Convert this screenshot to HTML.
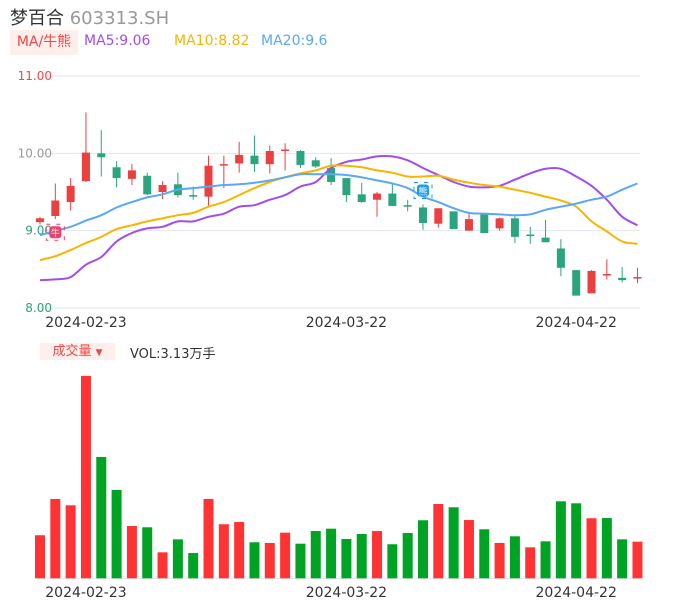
<!DOCTYPE html>
<html><head><meta charset="utf-8"><style>
body{margin:0;background:#fff;font-family:"DejaVu Sans","Noto Sans CJK SC",sans-serif;}
#wrap{position:relative;width:686px;height:606px;overflow:hidden;}
.abs{position:absolute;white-space:nowrap;}
</style></head><body>
<div id="wrap">
<div class="abs" style="left:10px;top:4px;font-size:18px;color:#333">梦百合 <span style="color:#999">603313.SH</span></div>
<div class="abs" style="left:10px;top:30px;width:68px;height:25px;background:#fdf0ec;color:#f04848;font-size:14px;line-height:25px;text-align:center">MA/牛熊</div>
<div class="abs" style="left:84px;top:33px;font-size:14px;color:#a04cf0">MA5:9.06</div>
<div class="abs" style="left:174px;top:33px;font-size:14px;color:#f7b500">MA10:8.82</div>
<div class="abs" style="left:261px;top:33px;font-size:14px;color:#5aa7f5">MA20:9.6</div>
<div class="abs" style="left:40px;top:343px;width:75px;height:17px;background:#fdf0ec;color:#f04848;font-size:13px;line-height:17px;text-align:center">成交量 <span style="font-size:9px">▼</span></div>
<div class="abs" style="left:130px;top:343px;font-size:13px;color:#333">VOL:3.13万手</div>
<svg id="svg" width="686" height="606" style="position:absolute;left:0;top:0"></svg>
</div>
<script>
const dates=["2024-02-23","2024-03-22","2024-04-22"];
const dateIdx=[3,20,35];
const priceTicks=[11,10,9,8];
const priceTickLabels=["11.00","10.00","9.00","8.00"];
const opens=[9.11,9.19,9.37,9.64,10.00,9.82,9.67,9.71,9.50,9.60,9.46,9.44,9.85,9.87,9.97,9.86,10.04,10.03,9.91,9.81,9.68,9.47,9.40,9.48,9.33,9.30,9.09,9.25,9.00,9.23,9.03,9.16,8.95,8.91,8.77,8.49,8.19,8.42,8.39,8.38];
const closes=[9.16,9.39,9.58,10.01,9.95,9.68,9.78,9.47,9.59,9.46,9.44,9.84,9.86,9.98,9.86,10.03,10.05,9.85,9.83,9.63,9.46,9.37,9.48,9.32,9.31,9.10,9.29,9.02,9.15,8.97,9.16,8.92,8.93,8.85,8.52,8.16,8.48,8.44,8.36,8.40];
const highs=[9.18,9.61,9.68,10.53,10.30,9.90,9.86,9.75,9.64,9.75,9.57,9.97,9.97,10.15,10.23,10.10,10.13,10.04,9.95,9.94,9.68,9.62,9.50,9.60,9.40,9.34,9.29,9.25,9.22,9.23,9.17,9.19,9.05,9.14,8.89,8.49,8.49,8.63,8.53,8.52];
const lows=[9.08,9.15,9.26,9.63,9.70,9.56,9.59,9.46,9.41,9.43,9.40,9.31,9.55,9.75,9.76,9.74,9.78,9.81,9.81,9.59,9.37,9.36,9.18,9.32,9.25,9.01,9.04,9.02,9.00,8.97,9.00,8.84,8.83,8.85,8.41,8.16,8.19,8.37,8.33,8.32];
const ma5=[8.36,8.37,8.40,8.56,8.66,8.86,8.97,9.03,9.05,9.12,9.12,9.18,9.22,9.31,9.33,9.40,9.46,9.57,9.63,9.81,9.89,9.92,9.96,9.96,9.91,9.81,9.72,9.63,9.57,9.56,9.58,9.66,9.74,9.80,9.80,9.70,9.58,9.40,9.18,9.07];
const ma10=[8.62,8.67,8.75,8.84,8.92,9.02,9.07,9.12,9.16,9.20,9.23,9.31,9.37,9.46,9.55,9.63,9.69,9.74,9.78,9.84,9.84,9.82,9.78,9.75,9.70,9.70,9.71,9.66,9.62,9.59,9.57,9.53,9.49,9.44,9.39,9.31,9.12,8.99,8.86,8.83];
const ma20=[8.94,9.00,9.05,9.13,9.20,9.30,9.37,9.43,9.47,9.53,9.55,9.57,9.59,9.60,9.62,9.65,9.69,9.73,9.73,9.73,9.72,9.69,9.65,9.61,9.55,9.44,9.37,9.29,9.23,9.22,9.21,9.20,9.21,9.27,9.31,9.35,9.40,9.44,9.53,9.61];
const volumes=[3.68,6.78,6.24,17.3,10.37,7.55,4.47,4.36,2.22,3.33,2.16,6.78,4.62,4.81,3.08,3.02,3.90,2.96,4.04,4.24,3.36,3.79,4.04,2.91,3.87,4.96,6.35,6.07,4.98,4.19,3.02,3.59,2.65,3.16,6.58,6.41,5.13,5.15,3.33,3.13];
const volUp=[1,1,1,1,0,0,1,0,1,0,0,1,1,1,0,1,1,0,0,0,0,0,1,0,0,0,1,0,1,0,1,0,1,0,0,0,1,0,0,1];

const svg=document.getElementById('svg');
const NS="http://www.w3.org/2000/svg";
const FONT='DejaVu Sans, sans-serif';
function mk(tag,attrs,parent){const e=document.createElementNS(NS,tag);for(const k in attrs)e.setAttribute(k,attrs[k]);(parent||svg).appendChild(e);return e;}
const xOf=i=>40+i*15.32;
const yP=v=>308-(v-8)*77.33;
const yV=v=>578.3-v*11.7;
priceTicks.forEach((t,i)=>{
  const l=mk('line',{x1:40,x2:640,y1:yP(t),y2:yP(t),stroke:'#e3e6ee','stroke-width':1});
  
  
  const col=t>10?'#f04848':(t==10?'#999':'#2aa37e');
  const tx=mk('text',{x:52,y:yP(t)+4,'text-anchor':'end','font-size':12,fill:col,'font-family':FONT});
  tx.textContent=priceTickLabels[i];
  
  
});
const vb=mk('line',{x1:40,x2:640,y1:578.5,y2:578.5,stroke:'#e3e6ee'});


opens.forEach((o,i)=>{
  const c=closes[i],up=c>=o,col=up?'#eb4040':'#2ba57f',x=xOf(i);
  const g=mk('g',{});
  
  
  mk('line',{x1:x,x2:x,y1:yP(highs[i]),y2:yP(lows[i]),stroke:col,'stroke-width':1},g);
  const top=yP(Math.max(o,c)),h=Math.max(1.5,Math.abs(yP(o)-yP(c)));
  mk('rect',{x:x-4,y:top,width:8,height:h,fill:col},g);
  const vr=mk('rect',{x:x-5,y:yV(volumes[i]),width:10,height:578.3-yV(volumes[i]),fill:volUp[i]?'#ff3333':'#00a323'});
  
  
});
function smooth(arr){
  const pts=arr.map((v,i)=>[xOf(i),yP(v)]);
  let d='M'+pts[0][0].toFixed(1)+','+pts[0][1].toFixed(1);
  for(let i=0;i<pts.length-1;i++){
    const p0=pts[Math.max(0,i-1)],p1=pts[i],p2=pts[i+1],p3=pts[Math.min(pts.length-1,i+2)];
    const c1=[p1[0]+(p2[0]-p0[0])/6,p1[1]+(p2[1]-p0[1])/6],c2=[p2[0]-(p3[0]-p1[0])/6,p2[1]-(p3[1]-p1[1])/6];
    d+='C'+c1.map(n=>n.toFixed(1)).join(',')+' '+c2.map(n=>n.toFixed(1)).join(',')+' '+p2.map(n=>n.toFixed(1)).join(',');
  }
  return d;
}
[[ma5,'#a04cf0','ma5-line'],[ma10,'#f7b500','ma10-line'],[ma20,'#5aa7f5','ma20-line']].forEach(([arr,col,name])=>{
  const p=mk('path',{d:smooth(arr),fill:'none',stroke:col,'stroke-width':2,'stroke-linejoin':'round'});
  
  
});
dates.forEach((d,i)=>{
  [322,592].forEach(yy=>{
    const t=mk('text',{x:xOf(dateIdx[i]),y:yy+5,'text-anchor':'middle','font-size':14,fill:'#333','font-family':FONT});
    t.textContent=d;
    
    
  });
});
function marker(i,v,col,ch,name){
  const g=mk('g',{});
  
  
  const x=xOf(i),y=yP(v);
  mk('rect',{x:x-9,y:y-8,width:18,height:16,fill:'none',stroke:col,'stroke-width':1,'stroke-dasharray':'4 6'},g);
  mk('rect',{x:x-6,y:y-6,width:12,height:12,rx:3,fill:col},g);
  const t=mk('text',{x:x,y:y+4,'text-anchor':'middle','font-size':9,fill:'#fff','font-family':'Noto Sans CJK SC, sans-serif'},g);
  t.textContent=ch;
}
marker(1,8.98,'#f0406a','牛','bull-marker');
marker(25,9.52,'#1a9bf0','熊','bear-marker');
</script>
</body></html>
